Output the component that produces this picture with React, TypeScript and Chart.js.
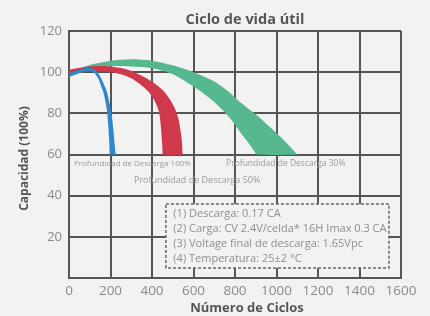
import React, { useEffect, useRef } from 'react';
import { Chart, registerables } from 'chart.js';

Chart.register(...registerables);

// Axis ranges / ticks
const xMin = 0;
const xMax = 1600;
const xStep = 200;
const yMin = 0;
const yMax = 120;
const yStep = 20;

// 100% DoD band (blue)
const blueOuterX = [0, 30, 60, 95, 120, 140, 160, 175, 184, 196, 206, 214, 220, 223.7, 224];
const blueOuterY = [99.5, 100.6, 101.5, 102, 101.4, 99.6, 96, 92.5, 90, 84.5, 79, 72, 65, 61, 60];
const blueInnerX = [0, 30, 60, 90, 110, 128, 145, 157, 165, 175, 184, 190, 194, 195.8, 196];
const blueInnerY = [97.8, 99, 100, 100.6, 100.4, 99, 96, 92.5, 90.5, 86, 80.5, 73, 66, 61, 60];

// 50% DoD band (red)
const redOuterX = [0, 50, 100, 150, 200, 250, 300, 350, 400, 450, 485, 510, 528, 540, 545, 546.8, 547];
const redOuterY = [101.3, 102.2, 102.8, 103, 102.8, 102, 100.6, 98.3, 95.4, 91.5, 87, 82.5, 77, 70, 65, 61, 60];
const redInnerX = [0, 50, 100, 150, 200, 250, 300, 350, 380, 405, 422, 435, 444, 449, 450.9, 451];
const redInnerY = [99.2, 99.8, 100.2, 100.3, 100, 99, 97, 93.5, 90.8, 87.5, 84, 80, 72, 65, 61, 60];

// 30% DoD band (green)
const greenOuterX = [0, 50, 100, 150, 200, 300, 400, 500, 600, 700, 770, 830, 900, 950, 1000, 1050, 1091, 1100];
const greenOuterY = [99, 101.6, 103.5, 104.6, 105.6, 106.3, 105.6, 103.3, 100, 95.5, 90.5, 85, 79.5, 75, 70.5, 65.5, 61, 60];
const greenInnerX = [0, 50, 100, 150, 200, 300, 400, 500, 600, 650, 700, 755, 800, 850, 880, 896.5, 903];
const greenInnerY = [97.6, 99.5, 101, 102.3, 103, 102.8, 101.9, 99, 93, 89.5, 85.5, 80, 74.5, 67.5, 63.5, 61, 60];

const seriesLabels = [
  'Profundidad de Descarga 100%',
  'Profundidad de Descarga 50%',
  'Profundidad de Descarga 30%',
];

const notes = [
  '(1) Descarga: 0.17 CA',
  '(2) Carga: CV 2.4V/celda* 16H Imax 0.3 CA',
  '(3) Voltage final de descarga: 1.65Vpc',
  '(4) Temperatura: 25±2 °C',
];

const titleText = 'Ciclo de vida útil';
const xTitle = 'Número de Ciclos';
const yTitle = 'Capacidad (100%)';

const BG = '#f1f2f1';
const GRID = '#555555';
const FONT = "'Open Sans', sans-serif";

function band(ox: number[], oy: number[], ix: number[], iy: number[]) {
  const pts = ox.map((x, i) => ({ x, y: oy[i] }));
  for (let i = ix.length - 1; i >= 0; i--) pts.push({ x: ix[i], y: iy[i] });
  return pts;
}

const decorPlugin = {
  id: 'decor',
  afterDatasetsDraw(chart: any) {
    const { ctx, scales } = chart;
    const xs = scales.x;
    const ys = scales.y;
    ctx.save();
    // Series labels
    ctx.fillStyle = '#9c9c9c';
    ctx.textBaseline = 'middle';
    ctx.textAlign = 'left';
    ctx.font = `8px ${FONT}`;
    ctx.fillText(seriesLabels[0], xs.getPixelForValue(24), ys.getPixelForValue(55.4));
    ctx.font = `8.5px ${FONT}`;
    ctx.fillText(seriesLabels[2], xs.getPixelForValue(757), ys.getPixelForValue(55.4));
    ctx.font = `9px ${FONT}`;
    ctx.fillText(seriesLabels[1], xs.getPixelForValue(313), ys.getPixelForValue(47.6));

    // Notes box
    const bx1 = xs.getPixelForValue(467);
    const bx2 = xs.getPixelForValue(1542);
    const by1 = ys.getPixelForValue(36);
    const by2 = ys.getPixelForValue(4.9);
    ctx.fillStyle = BG;
    ctx.fillRect(bx1, by1, bx2 - bx1, by2 - by1);
    ctx.setLineDash([3, 2]);
    ctx.strokeStyle = '#666666';
    ctx.lineWidth = 1.5;
    ctx.strokeRect(bx1, by1, bx2 - bx1, by2 - by1);
    ctx.setLineDash([]);
    ctx.fillStyle = '#8e8e8e';
    ctx.font = `11px ${FONT}`;
    const tx = xs.getPixelForValue(503);
    const y0 = by1 + 10.3;
    notes.forEach((t, i) => ctx.fillText(t, tx, y0 + i * 14.8));
    ctx.restore();
  },
  afterDraw(chart: any) {
    const { ctx, chartArea } = chart;
    const cx = (chartArea.left + chartArea.right) / 2;
    const cy = (chartArea.top + chartArea.bottom) / 2;
    ctx.save();
    ctx.fillStyle = '#555555';
    ctx.textAlign = 'center';
    ctx.textBaseline = 'middle';
    ctx.font = `bold 14.5px ${FONT}`;
    ctx.fillText(titleText, cx + 10, chartArea.top - 11);
    ctx.font = `bold 13px ${FONT}`;
    ctx.fillText(xTitle, cx + 12, chartArea.bottom + 30);
    ctx.translate(chartArea.left - 44, cy + 4);
    ctx.rotate(-Math.PI / 2);
    ctx.font = `bold 12px ${FONT}`;
    ctx.fillText(yTitle, 0, 0);
    ctx.restore();
  },
};

export default function App() {
  const ref = useRef<HTMLCanvasElement | null>(null);
  useEffect(() => {
    if (!ref.current) return;
    Chart.defaults.font.family = FONT;
    const mk = (data: any[], color: string) => ({
      data,
      fill: 'shape',
      backgroundColor: color,
      borderColor: 'rgba(0,0,0,0)',
      borderWidth: 0,
      pointRadius: 0,
      tension: 0.3,
    });
    const chart = new Chart(ref.current, {
      type: 'line',
      data: {
        datasets: [
          mk(band(blueOuterX, blueOuterY, blueInnerX, blueInnerY), '#2e86cb'),
          mk(band(redOuterX, redOuterY, redInnerX, redInnerY), '#d0394b'),
          mk(band(greenOuterX, greenOuterY, greenInnerX, greenInnerY), '#56b88e'),
        ] as any,
      },
      options: {
        animation: false,
        responsive: false,
        events: [],
        layout: { padding: { top: 31, right: 29, left: 0, bottom: 0 } },
        plugins: { legend: { display: false }, tooltip: { enabled: false }, title: { display: false } },
        scales: {
          x: {
            type: 'linear',
            min: xMin,
            max: xMax,
            afterFit: (s: any) => { s.height = 38; },
            ticks: {
              stepSize: xStep,
              color: '#8a8a8a',
              font: { size: 13.5 },
              padding: 5,
              maxRotation: 0,
              callback: (v: any) => String(v),
            },
            grid: { color: GRID, lineWidth: 2, drawTicks: false },
            border: { display: true, color: GRID, width: 2 },
          },
          y: {
            min: yMin,
            max: yMax,
            afterFit: (s: any) => { s.width = 69; },
            ticks: {
              stepSize: yStep,
              color: '#8a8a8a',
              font: { size: 13 },
              padding: 7,
              callback: (v: any) => (v === 0 ? '' : String(v)),
            },
            grid: { color: GRID, lineWidth: 2, drawTicks: false },
            border: { display: true, color: GRID, width: 2 },
          },
        },
      } as any,
      plugins: [decorPlugin],
    });
    return () => chart.destroy();
  }, []);
  return (
    <div style={{ position: 'absolute', left: 0, top: 0, width: 430, height: 316, background: BG }}>
      <canvas ref={ref} width={430} height={316} style={{ display: 'block' }} />
    </div>
  );
}
